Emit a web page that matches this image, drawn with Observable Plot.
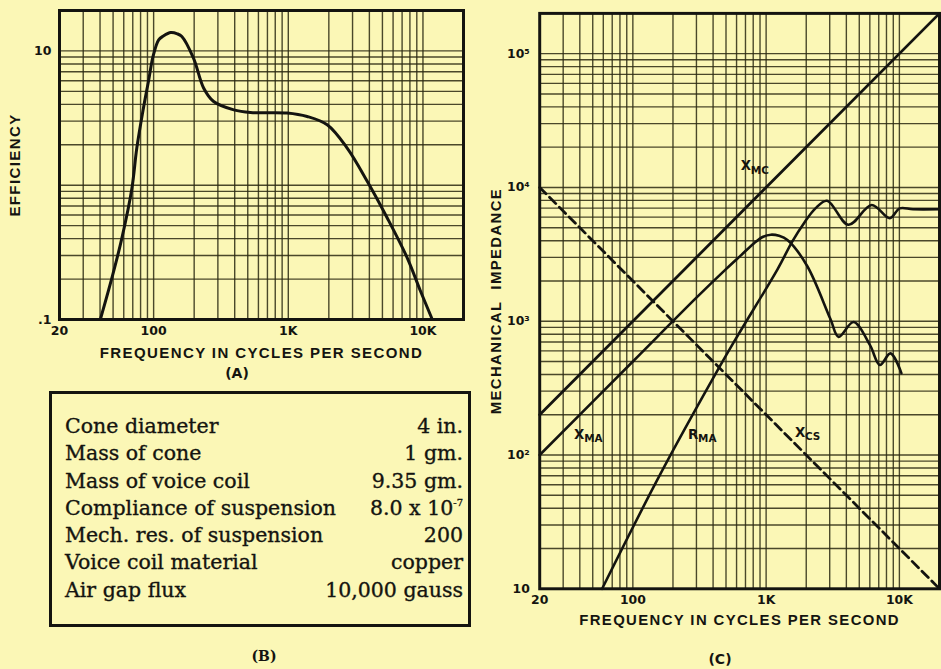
<!DOCTYPE html>
<html>
<head>
<meta charset="utf-8">
<script src="https://cdn.jsdelivr.net/npm/d3@7"></script>
<script src="https://cdn.jsdelivr.net/npm/@observablehq/plot@0.6"></script>
<style>
  html, body { margin: 0; padding: 0; background: #fbf7b6; }
  #page { position: relative; width: 941px; height: 669px; overflow: hidden; background: #fbf7b6; color: #141410; font-family: "DejaVu Sans", sans-serif; }
  #chartA { position: absolute; left: 0; top: 0; }
  #chartC { position: absolute; left: 440px; top: 0; }
  #page svg g[aria-label="x-axis tick label"] text,
  #page svg g[aria-label="y-axis tick label"] text { font-weight: bold; font-size: 12.5px; }
  #page svg g[aria-label="x-axis label"] text,
  #page svg g[aria-label="y-axis label"] text { font-family: "Liberation Sans", sans-serif; font-weight: bold; font-size: 15px; letter-spacing: 1.4px; }
  #specs { position: absolute; left: 49px; top: 391px; width: 422px; height: 236px; box-sizing: border-box; border: 3px solid #141410; padding: 19px 5px 0 13px; font-family: "DejaVu Serif", serif; font-size: 20.5px; line-height: 27.3px; color: #141410; -webkit-text-stroke: 0.35px #141410; }
  #specs .row { display: flex; justify-content: space-between; white-space: nowrap; }
  #specs sup { font-size: 10px; vertical-align: 9px; line-height: 0; }
  .cap { position: absolute; transform: translate(-50%, -50%); font-weight: bold; white-space: nowrap; }
  #capA { left: 237px; top: 373px; font-family: "DejaVu Sans", sans-serif; font-size: 14px; }
  #capB { left: 264px; top: 656px; font-family: "DejaVu Serif", serif; font-size: 14px; }
  #capC { left: 720px; top: 659px; font-family: "DejaVu Sans", sans-serif; font-size: 14px; }
</style>
</head>
<body>
<div id="page">
  <div id="chartA"></div>
  <div id="chartC"></div>
  <div id="specs"></div>
  <div class="cap" id="capA">(A)</div>
  <div class="cap" id="capB">(B)</div>
  <div class="cap" id="capC">(C)</div>
</div>
<script>
// ---------- shared axis values ----------
const xTicks = [20, 100, 1000, 10000];
const xTickLabels = ["20", "100", "1K", "10K"];
const xGrid = [20, 30, 40, 50, 60, 70, 80, 90, 100, 200, 300, 400, 500, 600, 700, 800, 900,
  1000, 2000, 3000, 4000, 5000, 6000, 7000, 8000, 9000, 10000, 20000];

// ---------- (A) efficiency ----------
const yTicksA = [0.1, 10];
const yTickLabelsA = [".1", "10"];
const yGridA = [0.1, 0.2, 0.3, 0.4, 0.5, 0.6, 0.7, 0.8, 0.9, 1, 2, 3, 4, 5, 6, 7, 8, 9, 10, 20];
const effFreq = [40.2, 49, 58, 69, 75, 84, 92, 99, 109, 118, 134, 150, 162, 198, 235, 279, 394, 524, 980, 1380, 1945, 2737, 3855, 5430, 7640, 9580, 11730];
const effValue = [0.1, 0.204, 0.40, 0.95, 1.89, 3.75, 6.1, 9.1, 12.1, 12.9, 13.7, 13.4, 12.8, 8.8, 5.3, 4.2, 3.64, 3.48, 3.45, 3.25, 2.82, 1.89, 1.07, 0.57, 0.288, 0.163, 0.1];

// ---------- (C) mechanical impedance ----------
const yTicksC = [10, 100, 1000, 10000, 100000];
const yTickLabelsC = ["10", "10²", "10³", "10⁴", "10⁵"];
const yGridC = [10, 20, 30, 40, 50, 60, 70, 80, 90, 100, 200, 300, 400, 500, 600, 700, 800, 900,
  1000, 2000, 3000, 4000, 5000, 6000, 7000, 8000, 9000, 10000, 20000, 30000, 40000, 50000, 60000,
  70000, 80000, 90000, 100000, 200000];
const xmcFreq = [20, 20000];
const xmcValue = [200, 200000];
const xcsFreq = [20, 20000];
const xcsValue = [10000, 10];
const xmaFreq = [20, 100, 300, 500, 650, 817, 950, 1086, 1250, 1445, 2033, 3033, 3500, 4529, 6018, 7140, 8573, 10350];
const xmaValue = [100, 500, 1500, 2450, 3120, 3850, 4280, 4436, 4350, 4050, 2588, 1043, 764, 986, 662, 471, 575, 409];
const rmaFreq = [58.8, 156, 449, 614, 1217, 1574, 1923, 2345, 2865, 4152, 6195, 8475, 10050, 12640, 20000];
const rmaValue = [10, 68, 459, 785, 2444, 3956, 5410, 6980, 7960, 5260, 7400, 5890, 6980, 6870, 6870];
const labelMain = ["X", "X", "R", "X"];
const labelSub = ["MC", "MA", "MA", "CS"];
const labelFreq = [704, 39.6, 283, 1798];
const labelValue = [14490, 143, 143, 147];

// ---------- (B) specification table ----------
const specNames = ["Cone diameter", "Mass of cone", "Mass of voice coil", "Compliance of suspension",
  "Mech. res. of suspension", "Voice coil material", "Air gap flux"];
const specValues = ["4 in.", "1 gm.", "9.35 gm.", "8.0 x 10^-7", "200", "copper", "10,000 gauss"];

const ink = "#141410";
const gridInk = "#2a2912";
const zip = (xs, ys) => xs.map((x, i) => ({f: x, v: ys[i]}));
const fmt = (ticks, labels) => d => { const i = ticks.findIndex(t => Math.abs(t - d) / t < 1e-9); return i < 0 ? "" : labels[i]; };
const baseStyle = {background: "transparent", fontFamily: "DejaVu Sans, sans-serif", fontSize: "12px", color: ink, overflow: "visible"};

const plotA = Plot.plot({
  width: 470, height: 362,
  marginLeft: 59, marginRight: 7, marginTop: 10, marginBottom: 43,
  style: baseStyle,
  x: {type: "log", domain: [20, 20000], ticks: xTicks, tickFormat: fmt(xTicks, xTickLabels), tickSize: 0, tickPadding: 7,
      label: "FREQUENCY IN CYCLES PER SECOND", labelAnchor: "center", labelOffset: 38, labelArrow: false},
  y: {type: "log", domain: [0.1, 20], ticks: yTicksA, tickFormat: fmt(yTicksA, yTickLabelsA), tickSize: 0, tickPadding: 8,
      label: "EFFICIENCY", labelAnchor: "center", labelOffset: 50, labelArrow: false},
  marks: [
    Plot.ruleX(xGrid, {stroke: gridInk, strokeWidth: 1.4, strokeOpacity: 0.85}),
    Plot.ruleY(yGridA, {stroke: gridInk, strokeWidth: 1.4, strokeOpacity: 0.85}),
    Plot.line(zip(effFreq, effValue), {x: "f", y: "v", curve: "catmull-rom", stroke: ink, strokeWidth: 3}),
    Plot.frame({stroke: ink, strokeWidth: 3})
  ]
});
document.getElementById("chartA").appendChild(plotA);

const labels = labelMain.map((m, i) => ({f: labelFreq[i], v: labelValue[i], main: m, sub: labelSub[i]}));
const plotC = Plot.plot({
  width: 505, height: 636,
  marginLeft: 100, marginRight: 2, marginTop: 13, marginBottom: 43,
  style: baseStyle,
  x: {type: "log", domain: [20, 20000], ticks: xTicks, tickFormat: fmt(xTicks, xTickLabels), tickSize: 0, tickPadding: 6,
      label: "FREQUENCY IN CYCLES PER SECOND", labelAnchor: "center", labelOffset: 36, labelArrow: false},
  y: {type: "log", domain: [10, 200000], ticks: yTicksC, tickFormat: fmt(yTicksC, yTickLabelsC), tickSize: 0, tickPadding: 10,
      label: "MECHANICAL  IMPEDANCE", labelAnchor: "center", labelOffset: 50, labelArrow: false},
  marks: [
    Plot.ruleX(xGrid, {stroke: gridInk, strokeWidth: 1.4, strokeOpacity: 0.85}),
    Plot.ruleY(yGridC, {stroke: gridInk, strokeWidth: 1.4, strokeOpacity: 0.85}),
    Plot.line(zip(xmcFreq, xmcValue), {x: "f", y: "v", stroke: ink, strokeWidth: 2.8}),
    Plot.line(zip(xcsFreq, xcsValue), {x: "f", y: "v", stroke: ink, strokeWidth: 2.8, strokeDasharray: "9,5"}),
    Plot.line(zip(xmaFreq, xmaValue), {x: "f", y: "v", curve: "catmull-rom", stroke: ink, strokeWidth: 2.6}),
    Plot.line(zip(rmaFreq, rmaValue), {x: "f", y: "v", curve: "catmull-rom", stroke: ink, strokeWidth: 2.6}),
    Plot.text(labels, {x: "f", y: "v", text: "main", fill: ink, fontSize: 13.5, fontWeight: "bold", textAnchor: "middle"}),
    Plot.text(labels, {x: "f", y: "v", text: "sub", fill: ink, fontSize: 10.5, fontWeight: "bold", textAnchor: "start", dx: 5, dy: 4.5}),
    Plot.frame({stroke: ink, strokeWidth: 3})
  ]
});
document.getElementById("chartC").appendChild(plotC);

// table (B)
const specs = document.getElementById("specs");
specNames.forEach((name, i) => {
  const row = document.createElement("div");
  row.className = "row";
  const a = document.createElement("span");
  a.textContent = name;
  const b = document.createElement("span");
  const parts = specValues[i].split("^");
  b.textContent = parts[0];
  if (parts[1]) { const s = document.createElement("sup"); s.textContent = parts[1]; b.appendChild(s); }
  row.appendChild(a); row.appendChild(b);
  specs.appendChild(row);
});
</script>
</body>
</html>
